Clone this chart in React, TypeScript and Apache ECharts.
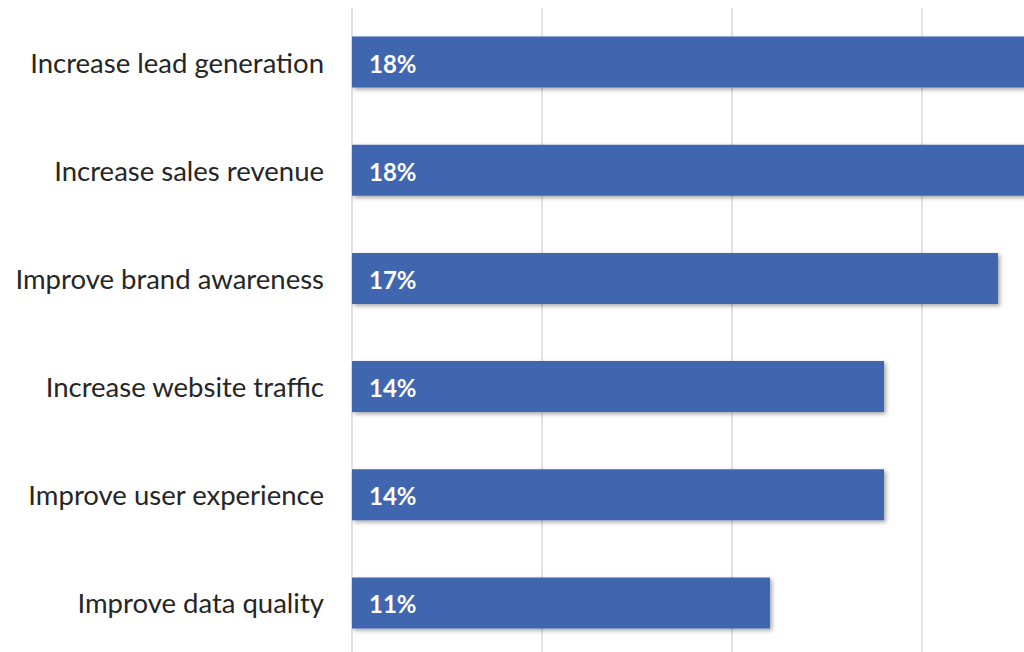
import React, { useEffect, useRef } from "react";
import * as echarts from "echarts";

const categories = [
  "Increase lead generation",
  "Increase sales revenue",
  "Improve brand awareness",
  "Increase website traffic",
  "Improve user experience",
  "Improve data quality",
];
const values = [18, 18, 17, 14, 14, 11];
const xTicks = [0, 5, 10, 15, 20];

export default function App() {
  const ref = useRef<HTMLDivElement>(null);
  useEffect(() => {
    if (!ref.current) return;
    const chart = echarts.init(ref.current, null, { renderer: "svg" });
    chart.setOption({
      animation: false,
      backgroundColor: "#ffffff",
      grid: { left: 352, top: 8, width: 760, height: 649, containLabel: false },
      xAxis: {
        type: "value",
        min: xTicks[0],
        max: xTicks[xTicks.length - 1],
        interval: 5,
        axisLabel: { show: false },
        axisLine: { show: false },
        axisTick: { show: false },
        splitLine: { show: true, lineStyle: { color: "#d9d9d9", width: 1.5 } },
      },
      yAxis: {
        type: "category",
        data: categories,
        inverse: true,
        axisLine: { show: false },
        axisTick: { show: false },
        axisLabel: {
          margin: 28,
          fontSize: 27.5,
          fontFamily: "Lato, 'Open Sans', sans-serif",
          color: "#262626",
        },
      },
      series: [
        {
          type: "bar",
          data: values,
          barWidth: 51,
          itemStyle: {
            color: "#4166B0",
            shadowColor: "rgba(0,0,0,0.35)",
            shadowBlur: 4,
            shadowOffsetX: 2,
            shadowOffsetY: 2,
          },
          label: {
            show: true,
            position: "insideLeft",
            offset: [12, 1],
            formatter: "{c}%",
            color: "#ffffff",
            fontWeight: "bold",
            fontSize: 24,
            fontFamily: "Lato, 'Open Sans', sans-serif",
          },
        },
      ],
    });
    return () => chart.dispose();
  }, []);
  return (
    <div
      style={{
        position: "fixed",
        left: 0,
        top: 0,
        width: 1024,
        height: 652,
        overflow: "hidden",
        background: "#ffffff",
      }}
    >
      <div ref={ref} style={{ width: 1200, height: 700 }} />
    </div>
  );
}
